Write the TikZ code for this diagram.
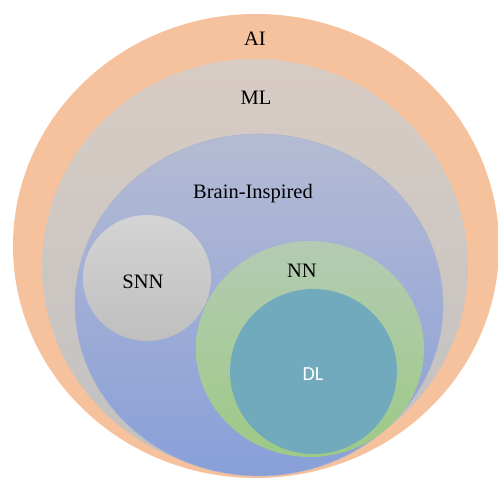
\documentclass[tikz,border=0pt]{standalone}
\usepackage{fontspec}
\setmainfont{Liberation Serif}
\newfontfamily\dlfont{Carlito}
\definecolor{aiC}{HTML}{F5C29D}
\definecolor{mlTop}{HTML}{D8CCC4}
\definecolor{mlBot}{HTML}{C1C1C1}
\definecolor{biTop}{HTML}{B5BBD3}
\definecolor{biBot}{HTML}{889FD9}
\definecolor{snnTop}{HTML}{D4D4D4}
\definecolor{snnBot}{HTML}{BFBFBF}
\definecolor{nnTop}{HTML}{B3CBB3}
\definecolor{nnBot}{HTML}{9DCA86}
\definecolor{dlC}{HTML}{72AABD}
\tikzset{
  lbl/.style={font=\fontsize{20.5}{24}\selectfont, text=black, inner sep=0pt},
  dllbl/.style={font=\dlfont\fontsize{20}{24}\selectfont, text=white, inner sep=0pt},
  edge/.style={draw=#1, line width=0.6pt}
}
\begin{document}
\begin{tikzpicture}[x=1pt,y=-1pt]
\useasboundingbox (0,0) rectangle (498,478);
\clip (0,0) rectangle (498,478);
% AI
\fill[aiC] (256,246) ellipse [x radius=243, y radius=232];
% ML
\shade[top color=mlTop, bottom color=mlBot] (255,266) ellipse [x radius=213, y radius=207];
% Brain-Inspired
\shade[top color=biTop, bottom color=biBot, edge=biTop!80!black!20!biTop] (259,305) ellipse [x radius=184, y radius=171];
% SNN
\shade[top color=snnTop, bottom color=snnBot] (147,278) ellipse [x radius=64, y radius=63];
% NN
\shade[top color=nnTop, bottom color=nnBot] (310,349) ellipse [x radius=114, y radius=108];
% DL
\fill[dlC] (313.5,371.5) ellipse [x radius=83.5, y radius=82.5];
% labels
\node[lbl] (ai) at (255,39) {AI};
\node[lbl] (ml) at (256,98) {ML};
\node[lbl] (bi) at (253,194) {Brain-Inspired};
\node[lbl] (snn) at (143,282) {SNN};
\node[lbl] (nn) at (302,271) {NN};
\node[dllbl] (dl) at (313,374) {DL};
\end{tikzpicture}
\end{document}
